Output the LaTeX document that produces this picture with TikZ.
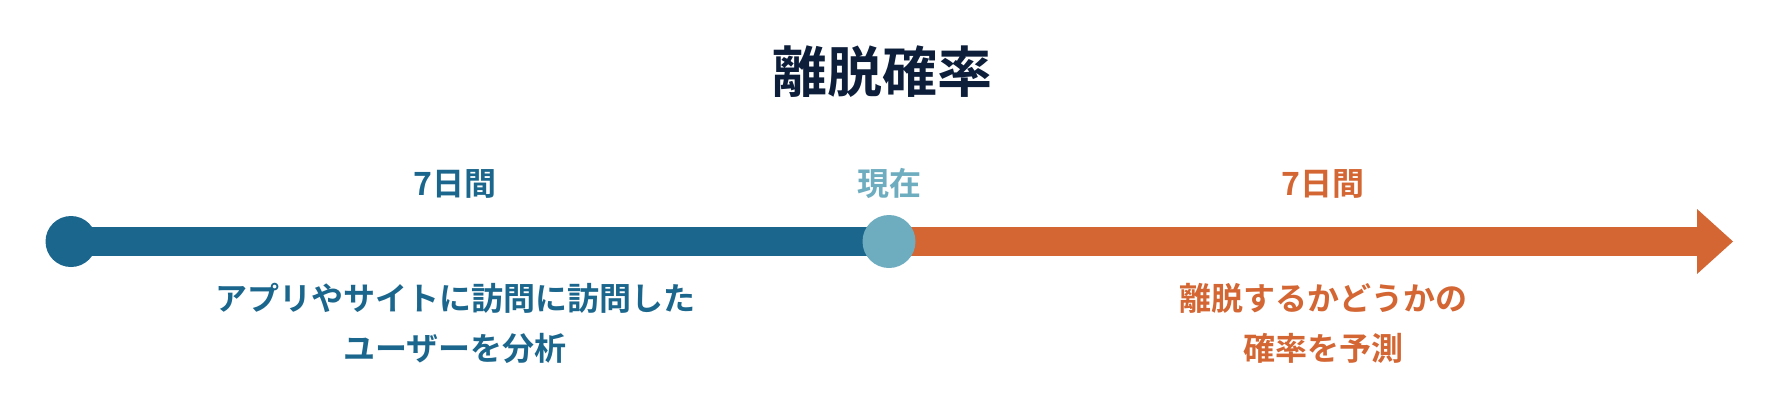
\documentclass[tikz,border=0pt]{standalone}
\usepackage{fontspec}
\setmainfont{Noto Sans CJK JP}[BoldFont={* Bold}]
\definecolor{cblue}{RGB}{27,102,140}
\definecolor{clight}{RGB}{110,173,191}
\definecolor{corange}{RGB}{211,102,51}
\definecolor{cnavy}{RGB}{13,30,58}
\tikzset{
  lbl/.style={font=\bfseries\fontsize{32}{50}\selectfont, inner sep=0pt, anchor=base, align=center},
  ttl/.style={font=\bfseries\fontsize{55}{60}\selectfont, inner sep=0pt, anchor=base, text=cnavy},
  dot/.style={circle, inner sep=0pt, minimum size=52pt},
  bar/.style={line width=29pt}
}
\begin{document}
\begin{tikzpicture}[x=1pt,y=-1pt]
\useasboundingbox (0,0) rectangle (1768,415);
% title
\node[ttl] (title) at (882,92) {離脱確率};
% timeline points
\node[dot] (start) at (71,241.5) {};
\node[dot] (now) at (889,241.5) {};
\coordinate (headbase) at (1697,241.5);
\coordinate (tip) at (1733,241.5);
% bars
\draw[bar, cblue] (start.center) -- (now.center);
\draw[bar, corange] (now.center) -- ([xshift=1pt]headbase);
\fill[corange] ([yshift=-32.5pt]headbase) -- (tip) -- ([yshift=32.5pt]headbase) -- cycle;
\fill[cblue] (start) circle (25.5);
\fill[clight] (now) circle (26.5);
% labels
\node[lbl, text=cblue] (lab1) at (455,195) {7日間};
\node[lbl, text=clight] (lab2) at (889,195) {現在};
\node[lbl, text=corange] (lab3) at (1323,195) {7日間};
\node[lbl, text=cblue] (desc1) at (455,360) {アプリやサイトに訪問に訪問した\\ユーザーを分析};
\node[lbl, text=corange] (desc2) at (1323,360) {離脱するかどうかの\\確率を予測};
\end{tikzpicture}
\end{document}
